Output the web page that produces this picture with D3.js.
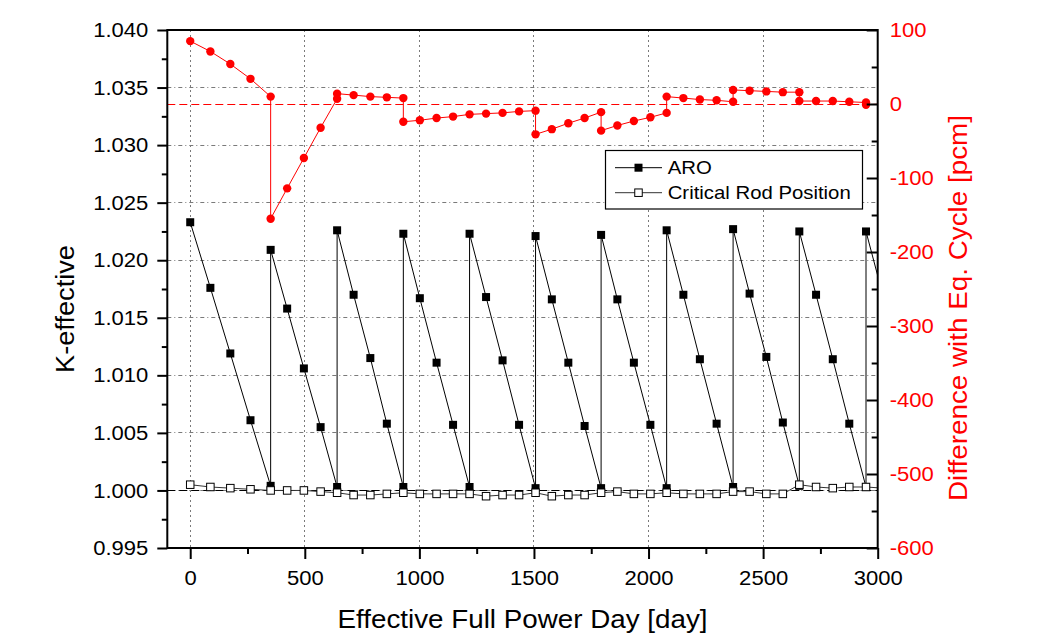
<!DOCTYPE html>
<html><head><meta charset="utf-8">
<script src="https://cdn.jsdelivr.net/npm/d3@7"></script>
<style>body{margin:0;background:#fff}svg{display:block}text{font-family:"Liberation Sans",Arial,sans-serif}</style>
</head><body><svg id="chart" width="1047" height="640"></svg>
<script>
// ---------- data ----------
const aroDays = [0,88,175,263,351, 351,423,496,569,641, 641,713,786,858,930, 930,1002,1075,1147,1219,
  1219,1291,1363,1435,1507, 1507,1578,1650,1721,1793, 1793,1864,1936,2008,2079, 2079,2152,2224,2297,2369,
  2369,2441,2514,2586,2658, 2658,2731,2804,2876,2949, 2949,3022];
const aroK = [1.0233,1.0176,1.0119,1.0061,1.0004, 1.0209,1.0158,1.0106,1.0055,1.0003, 1.0226,1.0170,1.0115,1.0058,1.0003,
  1.0223,1.0167,1.0111,1.0057,1.0003, 1.0223,1.0168,1.0113,1.0057,1.0002, 1.0221,1.0166,1.0111,1.0056,1.0002,
  1.0222,1.0166,1.0111,1.0057,1.0002, 1.0226,1.0170,1.0114,1.0058,1.0003, 1.0227,1.0171,1.0116,1.0059,1.0004,
  1.0225,1.0170,1.0114,1.0058,1.0003, 1.0225,1.0170];
const critDays = [0,88,175,263,351,423,496,569,641,713,786,858,930,1002,1075,1147,1219,1291,1363,1435,1507,
  1578,1650,1721,1793,1864,1936,2008,2079,2152,2224,2297,2369,2441,2514,2586,2658,2731,2804,2876,2949,3022];
const critK = [1.0005,1.0003,1.0002,1.0001,1.0000,1.0000,1.0000,0.9999,0.9998,0.9996,0.9996,0.9997,0.9998,0.9997,0.9997,0.9997,0.9997,
  0.9995,0.9996,0.9996,0.9998,0.9995,0.9996,0.9996,0.9998,0.9999,0.9997,0.9997,0.9998,0.9997,0.9997,0.9997,0.9999,
  0.9999,0.9997,0.9997,1.0005,1.0003,1.0002,1.0003,1.0003,1.0002];
const diffDays = [0,88,175,263,351, 351,423,496,569,641, 641,713,786,858,930, 930,1002,1075,1147,1219,
  1291,1363,1435,1507, 1507,1578,1650,1721,1793, 1793,1864,1936,2008,2079, 2079,2152,2224,2297,2369,
  2369,2441,2514,2586,2658, 2658,2731,2804,2876,2949, 2949,3022];
const diffPcm = [85,71,54,34,10, -155,-114,-73,-32,7, 14,12,10,9,8, -24,-22,-19,-17,-14,
  -13,-12,-10,-9, -41,-34,-26,-19,-11, -36,-29,-23,-18,-12, 10,8,6,5,3,
  19,18,17,16,16, 4,4,4,3,2, -1,0];
const xTicks = [0,500,1000,1500,2000,2500,3000];
const xMinor = [250,750,1250,1750,2250,2750];
const leftTicks = [0.995,1.000,1.005,1.010,1.015,1.020,1.025,1.030,1.035,1.040];
const leftMinor = [0.9975,1.0025,1.0075,1.0125,1.0175,1.0225,1.0275,1.0325,1.0375];
const rightTicks = [100,0,-100,-200,-300,-400,-500,-600];
const rightMinor = [50,-50,-150,-250,-350,-450,-550];
const legendLabels = ["ARO","Critical Rod Position"];
const xTitle = "Effective Full Power Day [day]";
const yTitle = "K-effective";
const y2Title = "Difference with Eq. Cycle [pcm]";

// ---------- layout ----------
const L=167.3, R=877.7, T=30, B=548;
const svg = d3.select("#chart");
const x = d3.scaleLinear().domain([-100,3000]).range([L,R]);
const yL = d3.scaleLinear().domain([0.995,1.040]).range([B,T]);
const yR = d3.scaleLinear().domain([-600,100]).range([B,T]);
const SX = 1.075;
function stretch(sel,f){ sel.each(function(){ const w=this.getComputedTextLength(); this.setAttribute("textLength", w*f); this.setAttribute("lengthAdjust","spacingAndGlyphs"); }); }
const crisp = v => Math.round(v - 0.5) + 0.5;

svg.append("defs").append("clipPath").attr("id","clip").append("rect")
  .attr("x",L).attr("y",T).attr("width",R-L).attr("height",B-T);

// grid
const grid = svg.append("g").attr("stroke","#7a7a7a").attr("stroke-width",1).attr("fill","none");
grid.selectAll("line.h").data(leftTicks.filter(d=>d>0.996 && d<1.039)).join("line")
  .attr("x1",L).attr("x2",R).attr("y1",d=>crisp(yL(d))).attr("y2",d=>crisp(yL(d)))
  .attr("stroke-dasharray","4,3,1,3");
grid.selectAll("line.v").data(xTicks.filter(d=>d<3000)).join("line")
  .attr("y1",T).attr("y2",B).attr("x1",d=>crisp(x(d))).attr("x2",d=>crisp(x(d)))
  .attr("stroke-dasharray","2,3");

// reference lines
svg.append("line").attr("x1",L).attr("x2",R).attr("y1",crisp(yL(1.0))).attr("y2",crisp(yL(1.0)))
  .attr("stroke","#000").attr("stroke-width",1).attr("stroke-dasharray","8,4");
svg.append("line").attr("x1",L).attr("x2",R).attr("y1",crisp(yR(0))).attr("y2",crisp(yR(0)))
  .attr("stroke","#ff0000").attr("stroke-width",1).attr("stroke-dasharray","8,4");

const plot = svg.append("g").attr("clip-path","url(#clip)");
const aro = aroDays.map((d,i)=>[d,aroK[i]]);
const crit = critDays.map((d,i)=>[d,critK[i]]);
const diff = diffDays.map((d,i)=>[d,diffPcm[i]]);
const MS = 8;

// ARO
plot.append("path").datum(aro).attr("fill","none").attr("stroke","#000").attr("stroke-width",1)
  .attr("d", d3.line().x(d=>x(d[0])).y(d=>yL(d[1])));
plot.selectAll("rect.aro").data(aro).join("rect").attr("class","aro")
  .attr("x",d=>x(d[0])-MS/2).attr("y",d=>yL(d[1])-MS/2).attr("width",MS).attr("height",MS).attr("fill","#000");

// Critical
plot.append("path").datum(crit).attr("fill","none").attr("stroke","#333").attr("stroke-width",1)
  .attr("d", d3.line().x(d=>x(d[0])).y(d=>yL(d[1])));
plot.selectAll("rect.crit").data(crit).join("rect").attr("class","crit")
  .attr("x",d=>x(d[0])-3.75).attr("y",d=>yL(d[1])-3.75).attr("width",7.5).attr("height",7.5)
  .attr("fill","#fff").attr("stroke","#000").attr("stroke-width",1);

// Difference (red)
plot.append("path").datum(diff).attr("fill","none").attr("stroke","#ff0000").attr("stroke-width",1)
  .attr("d", d3.line().x(d=>x(d[0])).y(d=>yR(d[1])));
plot.selectAll("circle.diff").data(diff).join("circle").attr("class","diff")
  .attr("cx",d=>x(d[0])).attr("cy",d=>yR(d[1])).attr("r",4.2).attr("fill","#ff0000");

// axes
function styleAxis(g){ g.select(".domain").remove(); g.selectAll("line").attr("stroke","#000").attr("stroke-width",2); }
const gl = svg.append("g").attr("transform",`translate(${L},0)`)
  .call(d3.axisLeft(yL).tickValues(leftTicks).tickSize(10).tickPadding(9).tickFormat(d3.format(".3f")));
gl.call(styleAxis);
gl.selectAll("text").attr("font-size",20.5).attr("font-family","Liberation Sans, Arial, sans-serif").attr("fill","#000");
svg.append("g").attr("transform",`translate(${L},0)`)
  .call(d3.axisLeft(yL).tickValues(leftMinor).tickSize(5.5).tickFormat("")).call(styleAxis);

const gb = svg.append("g").attr("transform",`translate(0,${B})`)
  .call(d3.axisBottom(x).tickValues(xTicks).tickSize(11).tickPadding(11).tickFormat(d=>String(d)));
gb.call(styleAxis);
gb.selectAll("text").attr("font-size",20.5).attr("font-family","Liberation Sans, Arial, sans-serif").attr("fill","#000");
svg.append("g").attr("transform",`translate(0,${B})`)
  .call(d3.axisBottom(x).tickValues(xMinor).tickSize(6).tickFormat("")).call(styleAxis);

// right axis: ticks inward, labels outside
svg.append("g").attr("transform",`translate(${R},0)`)
  .call(d3.axisLeft(yR).tickValues(rightTicks).tickSize(11).tickFormat("")).call(styleAxis);
svg.append("g").attr("transform",`translate(${R},0)`)
  .call(d3.axisLeft(yR).tickValues(rightMinor).tickSize(6).tickFormat("")).call(styleAxis);
const gr = svg.append("g").attr("transform",`translate(${R},0)`)
  .call(d3.axisRight(yR).tickValues(rightTicks).tickSize(0).tickPadding(12).tickFormat(d=>String(d)));
gr.select(".domain").remove();
gr.selectAll("text").attr("font-size",20.5).attr("font-family","Liberation Sans, Arial, sans-serif").attr("fill","#ff0000");

// frame
svg.append("rect").attr("x",L).attr("y",T).attr("width",R-L).attr("height",B-T)
  .attr("fill","none").attr("stroke","#000").attr("stroke-width",2);

stretch(svg.selectAll(".tick text"), SX);

// titles
const xt = svg.append("text").attr("x",(L+R)/2).attr("y",628).attr("text-anchor","middle")
  .attr("font-size",25.6).attr("fill","#000").text(xTitle);
xt.attr("textLength",370).attr("lengthAdjust","spacingAndGlyphs");
svg.append("text").attr("transform","translate(74,309) rotate(-90)").attr("text-anchor","middle")
  .attr("font-size",26).attr("fill","#000").attr("textLength",128).attr("lengthAdjust","spacingAndGlyphs").text(yTitle);
svg.append("text").attr("transform","translate(967,308) rotate(-90)").attr("text-anchor","middle")
  .attr("font-size",26).attr("fill","#ff0000").attr("textLength",386).attr("lengthAdjust","spacingAndGlyphs").text(y2Title);

// legend
const lg = svg.append("g");
lg.append("rect").attr("x",605.5).attr("y",150.5).attr("width",257).attr("height",58.5)
  .attr("fill","#fff").attr("stroke","#000").attr("stroke-width",1.2);
const items = lg.selectAll("g.item").data(legendLabels).join("g").attr("class","item")
  .attr("transform",(d,i)=>`translate(0,${167.7+i*25})`);
items.append("line").attr("x1",615).attr("x2",662).attr("stroke",(d,i)=>i?"#333":"#000").attr("stroke-width",1);
items.append("rect").attr("x",(d,i)=>i?634.75:634.5).attr("y",(d,i)=>i?-3.75:-4)
  .attr("width",(d,i)=>i?7.5:8).attr("height",(d,i)=>i?7.5:8)
  .attr("fill",(d,i)=>i?"#fff":"#000").attr("stroke","#000").attr("stroke-width",(d,i)=>i?1:0);
const lt = items.append("text").attr("x",667.7).attr("y",6.6).attr("font-size",19).attr("fill","#000").text(d=>d);
stretch(lt, 1.07);
</script></body></html>
